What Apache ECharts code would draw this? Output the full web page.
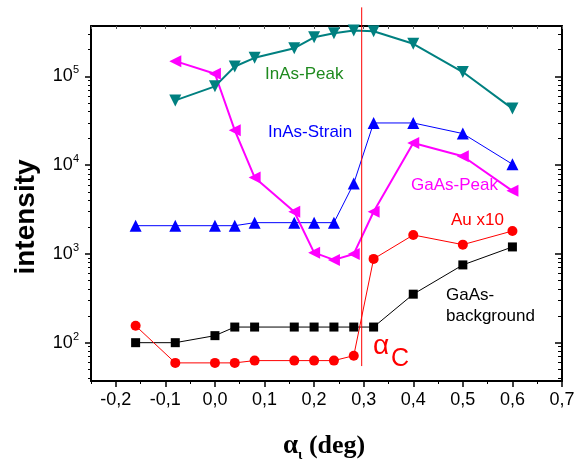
<!DOCTYPE html>
<html>
<head>
<meta charset="utf-8">
<script src="https://cdn.jsdelivr.net/npm/echarts@6/dist/echarts.min.js"></script>
<style>html,body{margin:0;padding:0;background:#fff}#c{width:585px;height:464px}</style>
</head>
<body>
<div id="c"></div>
<script>
// ---- data ----
const xFull = [-0.16, -0.08, 0, 0.04, 0.08, 0.16, 0.2, 0.24, 0.28, 0.32, 0.4, 0.5, 0.6];
const xPeak = [-0.08, 0, 0.04, 0.08, 0.16, 0.2, 0.24, 0.28, 0.32, 0.4, 0.5, 0.6];
const inAsPeak = [53700, 77300, 129500, 162000, 208000, 276000, 307000, 329000, 323000, 233000, 112000, 43400];
const gaAsPeak = [148600, 107200, 24700, 7280, 2990, 1034, 857, 1000, 2990, 17800, 12600, 5140];
const inAsStrain = [2080, 2080, 2080, 2080, 2250, 2250, 2250, 2250, 6230, 29900, 29900, 22700, 10260];
const auX10 = [155, 59.2, 59.2, 59.2, 62.8, 62.8, 62.8, 62.8, 71.4, 879, 1635, 1272, 1813];
const gaAsBackground = [100, 100, 120, 150, 150, 150, 150, 150, 150, 150, 352, 752, 1199];
const alphaC = 0.296;
const alphaCLine = [54.5, 600000];
const xTicksMajor = [-0.2, -0.1, 0, 0.1, 0.2, 0.3, 0.4, 0.5, 0.6, 0.7];
const xTicksMinor = [-0.25, -0.15, -0.05, 0.05, 0.15, 0.25, 0.35, 0.45, 0.55, 0.65];
const xTicksAll = xTicksMajor.concat(xTicksMinor);
const yTicksMajor = [100, 1000, 10000, 100000];
const yTicksMinor = [40, 50, 60, 70, 80, 90, 200, 300, 400, 500, 600, 700, 800, 900,
  2000, 3000, 4000, 5000, 6000, 7000, 8000, 9000, 20000, 30000, 40000, 50000, 60000, 70000, 80000, 90000, 200000, 300000];

const pairs = (xs, ys) => xs.map((x, i) => [x, ys[i]]);
const FONT = 'Liberation Sans, Arial, sans-serif';
const XMIN = -0.25, XMAX = 0.7, YMIN = 37, YMAX = 370000;

const chart = echarts.init(document.getElementById('c'), null, {renderer: 'canvas'});

const lineStyleAxis = {color: '#000', width: 2};
const xBase = {type: 'value', min: XMIN, max: XMAX, gridIndex: 0, splitLine: {show: false}};
const yBase = {type: 'log', logBase: 10, min: YMIN, max: YMAX, gridIndex: 0, splitLine: {show: false}};

const option = {
  animation: false,
  backgroundColor: '#fff',
  grid: {left: 91, top: 26, width: 471, height: 355, containLabel: false},
  xAxis: [
    Object.assign({}, xBase, {
      position: 'bottom',
      axisLine: {show: true, onZero: false, lineStyle: lineStyleAxis},
      axisTick: {show: true, inside: false, length: 6, lineStyle: {color: '#000', width: 1.5}, customValues: xTicksMajor},
      axisLabel: {show: true, customValues: xTicksMajor, margin: 10, color: '#000', fontFamily: FONT, fontSize: 18,
        formatter: v => (Math.abs(v) < 1e-9 ? 0 : v).toFixed(1).replace('.', ',')}
    }),
    Object.assign({}, xBase, {
      position: 'bottom',
      axisLine: {show: false, onZero: false},
      axisTick: {show: true, inside: false, length: 3, lineStyle: {color: '#000', width: 1}, customValues: xTicksMinor},
      axisLabel: {show: false}
    }),
    Object.assign({}, xBase, {
      position: 'top',
      axisLine: {show: true, onZero: false, lineStyle: lineStyleAxis},
      axisTick: {show: true, inside: true, length: 3, lineStyle: {color: '#555', width: 1}, customValues: xTicksAll},
      axisLabel: {show: false}
    })
  ],
  yAxis: [
    Object.assign({}, yBase, {
      position: 'left',
      axisLine: {show: true, onZero: false, lineStyle: lineStyleAxis},
      axisTick: {show: true, inside: false, length: 6, lineStyle: {color: '#000', width: 1.5}, customValues: yTicksMajor},
      axisLabel: {show: true, customValues: yTicksMajor, margin: 12, color: '#000', fontFamily: FONT,
        formatter: v => '{b|10}{s|' + Math.round(Math.log10(v)) + '}',
        rich: {b: {fontSize: 18, fontFamily: FONT, color: '#000'},
               s: {fontSize: 11, fontFamily: FONT, color: '#000', verticalAlign: 'top', padding: [0, 0, 12, 0]}}}
    }),
    Object.assign({}, yBase, {
      position: 'left',
      axisLine: {show: false, onZero: false},
      axisTick: {show: true, inside: false, length: 3, lineStyle: {color: '#000', width: 1}, customValues: yTicksMinor},
      axisLabel: {show: false}
    }),
    Object.assign({}, yBase, {
      position: 'right',
      axisLine: {show: true, onZero: false, lineStyle: lineStyleAxis},
      axisTick: {show: true, inside: true, length: 7, lineStyle: {color: '#000', width: 1.5}, customValues: yTicksMajor},
      axisLabel: {show: false}
    }),
    Object.assign({}, yBase, {
      position: 'right',
      axisLine: {show: false, onZero: false},
      axisTick: {show: true, inside: true, length: 4, lineStyle: {color: '#000', width: 1}, customValues: yTicksMinor},
      axisLabel: {show: false}
    })
  ],
  series: [
    {name: 'GaAs-background', type: 'line', data: pairs(xFull, gaAsBackground), symbol: 'rect', symbolSize: 9,
      itemStyle: {color: '#000'}, lineStyle: {color: '#000', width: 1}},
    {name: 'Au x10', type: 'line', data: pairs(xFull, auX10), symbol: 'circle', symbolSize: 10,
      itemStyle: {color: '#ff0000'}, lineStyle: {color: '#ff0000', width: 1}},
    {name: 'InAs-Strain', type: 'line', data: pairs(xFull, inAsStrain), symbol: 'triangle', symbolSize: 12,
      itemStyle: {color: '#0000ff'}, lineStyle: {color: '#0000ff', width: 1}},
    {name: 'GaAs-Peak', type: 'line', data: pairs(xPeak, gaAsPeak), symbol: 'triangle', symbolSize: 12, symbolRotate: 90,
      itemStyle: {color: '#ff00ff'}, lineStyle: {color: '#ff00ff', width: 2}},
    {name: 'InAs-Peak', type: 'line', data: pairs(xPeak, inAsPeak), symbol: 'triangle', symbolSize: 12, symbolRotate: 180,
      itemStyle: {color: '#008080'}, lineStyle: {color: '#008080', width: 2}},
    {name: 'alphaC', type: 'line', data: [[alphaC, alphaCLine[0]], [alphaC, alphaCLine[1]]], symbol: 'none', clip: false,
      lineStyle: {color: '#ff0000', width: 1}, z: 5}
  ],
  graphic: [
    {type: 'text', x: 265, y: 74, style: {text: 'InAs-Peak', fill: '#1f8a1f', font: '17px ' + FONT, textVerticalAlign: 'middle'}},
    {type: 'text', x: 268, y: 132, style: {text: 'InAs-Strain', fill: '#0000ff', font: '17px ' + FONT, textVerticalAlign: 'middle'}},
    {type: 'text', x: 411, y: 185, style: {text: 'GaAs-Peak', fill: '#ff00ff', font: '17px ' + FONT, textVerticalAlign: 'middle'}},
    {type: 'text', x: 451, y: 220, style: {text: 'Au x10', fill: '#ff0000', font: '17px ' + FONT, textVerticalAlign: 'middle'}},
    {type: 'text', x: 446, y: 295, style: {text: 'GaAs-', fill: '#000', font: '17px ' + FONT, textVerticalAlign: 'middle'}},
    {type: 'text', x: 446, y: 316, style: {text: 'background', fill: '#000', font: '17px ' + FONT, textVerticalAlign: 'middle'}},
    {type: 'text', x: 373, y: 346, style: {text: 'α', fill: '#ff0000', font: '28px ' + FONT, textVerticalAlign: 'middle'}},
    {type: 'text', x: 391, y: 359, style: {text: 'C', fill: '#ff0000', font: '25px ' + FONT, textVerticalAlign: 'middle'}},
    {type: 'text', x: 26, y: 217, rotation: Math.PI / 2,
      style: {text: 'intensity', fill: '#000', font: 'bold 28px ' + FONT, textAlign: 'center', textVerticalAlign: 'middle'}},
    {type: 'text', x: 283, y: 446,
      style: {text: '{a|α}{i|ι}{d| (deg)}', textVerticalAlign: 'middle',
        rich: {a: {fontSize: 27, fontWeight: 'bold', fontFamily: 'Liberation Serif, Times New Roman, serif', fill: '#000'},
               i: {fontSize: 14, fontWeight: 'bold', fontFamily: 'Liberation Serif, Times New Roman, serif', fill: '#000', padding: [18, 0, 0, 0]},
               d: {fontSize: 26, fontWeight: 'bold', fontFamily: 'Liberation Serif, Times New Roman, serif', fill: '#000'}}}}
  ]
};
chart.setOption(option);
</script>
</body>
</html>
